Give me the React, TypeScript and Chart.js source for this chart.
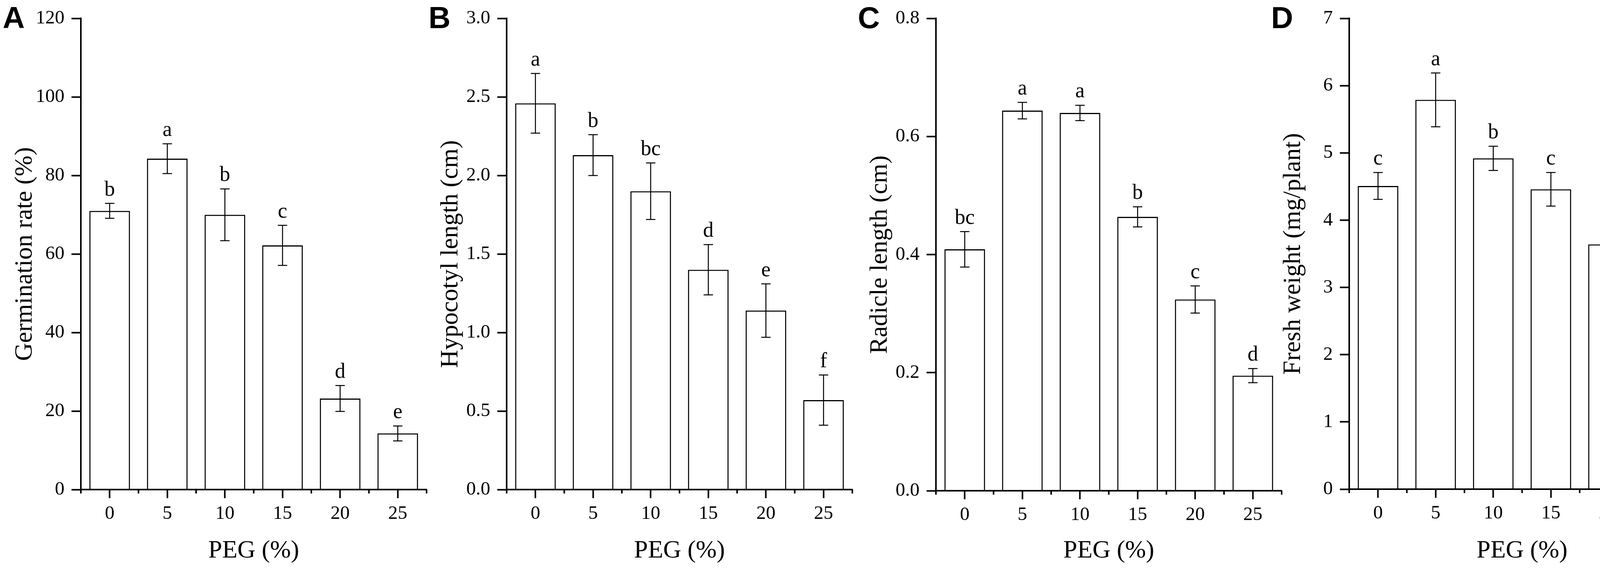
import React, { useEffect, useRef } from "react";
import Chart from "chart.js/auto";

const categories = ["0", "5", "10", "15", "20", "25"];

const germination = [71.0, 84.3, 70.0, 62.2, 23.2, 14.3];
const germinationErr = [1.9, 3.8, 6.6, 5.1, 3.3, 1.9];
const germinationLetters = ["b", "a", "b", "c", "d", "e"];

const hypocotyl = [2.46, 2.13, 1.9, 1.4, 1.14, 0.57];
const hypocotylErr = [0.19, 0.13, 0.18, 0.16, 0.17, 0.16];
const hypocotylLetters = ["a", "b", "bc", "d", "e", "f"];

const radicle = [0.409, 0.644, 0.64, 0.464, 0.324, 0.195];
const radicleErr = [0.03, 0.014, 0.013, 0.017, 0.023, 0.012];
const radicleLetters = ["bc", "a", "a", "b", "c", "d"];

const fresh = [4.51, 5.79, 4.92, 4.46, 3.64, 2.37];
const freshErr = [0.2, 0.4, 0.18, 0.25, 0.26, 0.32];
const freshLetters = ["c", "a", "b", "c", "d", "e"];

const xTitle = "PEG (%)";

type Panel = {
  tag: string;
  yTitle: string;
  values: number[];
  errs: number[];
  letters: string[];
  yMax: number;
  step: number;
  decimals: number;
  axisX: number;
  top: number;
  zero: number;
};

const panels: Panel[] = [
  { tag: "A", yTitle: "Germination rate (%)", values: germination, errs: germinationErr, letters: germinationLetters, yMax: 120, step: 20, decimals: 0, axisX: 207, top: 35, zero: 1253 },
  { tag: "B", yTitle: "Hypocotyl length (cm)", values: hypocotyl, errs: hypocotylErr, letters: hypocotylLetters, yMax: 3, step: 0.5, decimals: 1, axisX: 1297, top: 35, zero: 1253 },
  { tag: "C", yTitle: "Radicle length (cm)", values: radicle, errs: radicleErr, letters: radicleLetters, yMax: 0.8, step: 0.2, decimals: 1, axisX: 2396, top: 40, zero: 1256 },
  { tag: "D", yTitle: "Fresh weight (mg/plant)", values: fresh, errs: freshErr, letters: freshLetters, yMax: 7, step: 1, decimals: 0, axisX: 3454, top: 38, zero: 1252 },
];

const H = 1464;
const AXIS_W = 207;
const PLOT_W = 885;
const CANVAS_W = 1104;
const SERIF = "'Liberation Serif', 'Times New Roman', serif";
const SANS = "'Liberation Sans', Arial, sans-serif";

function PanelChart({ p }: { p: Panel }) {
  const ref = useRef<HTMLCanvasElement | null>(null);
  useEffect(() => {
    if (!ref.current) return;
    const extras = {
      id: "extras" + p.tag,
      afterDatasetsDraw(chart: any) {
        const ctx = chart.ctx;
        const meta = chart.getDatasetMeta(0);
        const y = chart.scales.y;
        ctx.save();
        ctx.strokeStyle = "#000";
        ctx.fillStyle = "#000";
        ctx.lineWidth = 2.5;
        ctx.font = `54px ${SERIF}`;
        ctx.textAlign = "center";
        ctx.textBaseline = "alphabetic";
        p.values.forEach((v, i) => {
          const x = meta.data[i].x;
          const yt = y.getPixelForValue(v + p.errs[i]);
          const yb = y.getPixelForValue(v - p.errs[i]);
          ctx.beginPath();
          ctx.moveTo(x, yt);
          ctx.lineTo(x, yb);
          ctx.moveTo(x - 12, yt);
          ctx.lineTo(x + 12, yt);
          ctx.moveTo(x - 12, yb);
          ctx.lineTo(x + 12, yb);
          ctx.stroke();
          ctx.fillText(p.letters[i], x, yt - 20);
        });
        ctx.restore();
      },
      afterDraw(chart: any) {
        const ctx = chart.ctx;
        const xs = chart.scales.x;
        const area = chart.chartArea;
        ctx.save();
        ctx.strokeStyle = "#000";
        ctx.lineWidth = 4;
        const n = p.values.length;
        const bounds: number[] = [area.left, area.right];
        for (let i = 1; i < n; i++) {
          bounds.push((xs.getPixelForTick(i - 1) + xs.getPixelForTick(i)) / 2);
        }
        ctx.beginPath();
        bounds.forEach((bx) => {
          ctx.moveTo(bx, area.bottom);
          ctx.lineTo(bx, area.bottom + 10);
        });
        ctx.stroke();
        ctx.fillStyle = "#000";
        ctx.font = `bold 78px ${SANS}`;
        ctx.textAlign = "left";
        ctx.textBaseline = "alphabetic";
        ctx.fillText(p.tag, area.left - 200, 72);
        ctx.restore();
      },
    };
    const chart = new Chart(ref.current, {
      type: "bar",
      data: {
        labels: categories,
        datasets: [
          {
            data: p.values,
            backgroundColor: "#ffffff",
            borderColor: "#000000",
            borderWidth: 3,
            barPercentage: 0.705,
            categoryPercentage: 1,
          },
        ],
      },
      options: {
        responsive: false,
        animation: false,
        devicePixelRatio: 1,
        layout: { padding: { left: 0, top: p.top, right: CANVAS_W - AXIS_W - PLOT_W, bottom: 0 } },
        plugins: { legend: { display: false }, tooltip: { enabled: false } },
        scales: {
          x: {
            offset: true,
            ticks: { color: "#000", font: { family: SERIF, size: 49 }, padding: 11, maxRotation: 0, autoSkip: false },
            grid: { display: true, offset: false, drawOnChartArea: false, drawTicks: true, tickLength: 22, tickWidth: 4, tickColor: "#000" },
            border: { display: true, width: 4, color: "#000", z: 1 },
            title: { display: true, text: xTitle, color: "#000", font: { family: SERIF, size: 64 }, padding: { top: 0, bottom: 15 } },
            afterFit: (s: any) => {
              s.height = H - p.zero;
            },
          },
          y: {
            min: 0,
            max: p.yMax,
            ticks: {
              stepSize: p.step,
              color: "#000",
              font: { family: SERIF, size: 49 },
              padding: 18,
              callback: (v: any) => Number(v).toFixed(p.decimals),
            },
            grid: { display: true, drawOnChartArea: false, drawTicks: true, tickLength: 24, tickWidth: 4, tickColor: "#000" },
            border: { display: true, width: 4, color: "#000", z: 1 },
            title: { display: true, text: p.yTitle, color: "#000", font: { family: SERIF, size: 64 }, padding: { top: 26, bottom: 0 } },
            afterFit: (s: any) => {
              s.width = AXIS_W;
            },
          },
        },
      },
      plugins: [extras],
    } as any);
    return () => chart.destroy();
  }, [p]);
  return (
    <canvas
      ref={ref}
      width={CANVAS_W}
      height={H}
      style={{ position: "absolute", left: p.axisX - AXIS_W, top: 0, width: CANVAS_W, height: H }}
    />
  );
}

export default function App() {
  return (
    <div style={{ position: "fixed", left: 0, top: 0, width: 4351, height: H, background: "#fff", overflow: "hidden" }}>
      {panels.map((p) => (
        <PanelChart key={p.tag} p={p} />
      ))}
    </div>
  );
}
